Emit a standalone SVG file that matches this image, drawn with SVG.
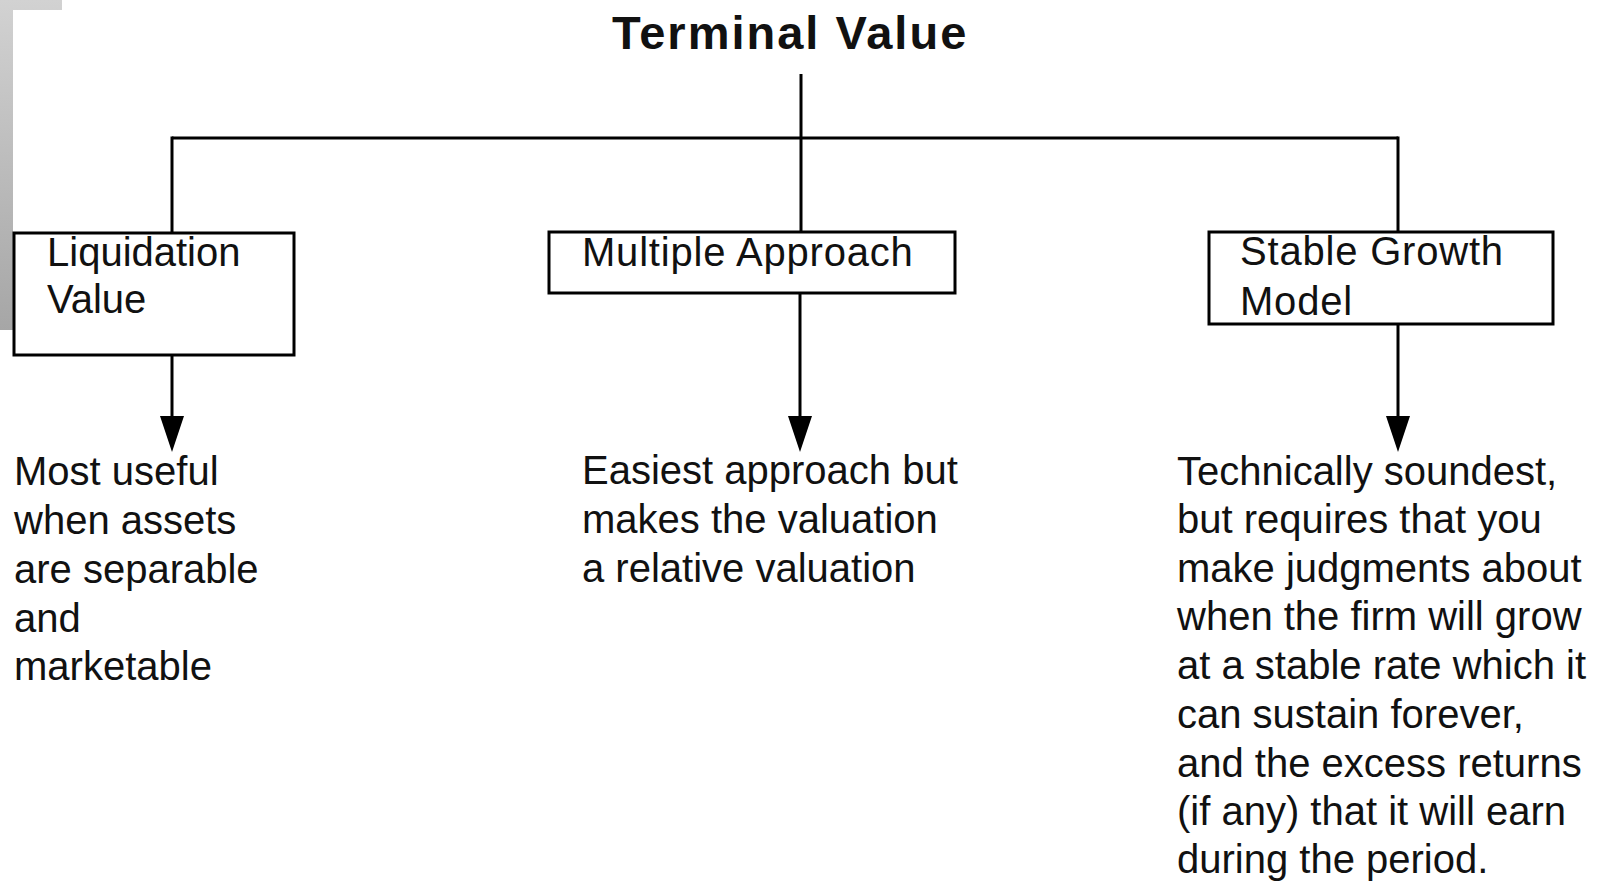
<svg xmlns="http://www.w3.org/2000/svg" width="1607" height="884" viewBox="0 0 1607 884">
  <defs>
    <linearGradient id="greyBar" x1="0" y1="0" x2="0" y2="1">
      <stop offset="0" stop-color="#d2d2d2"/>
      <stop offset="1" stop-color="#a6a6a6"/>
    </linearGradient>
    <style>
      .box { fill: #ffffff; stroke: #000000; stroke-width: 3; }
      .conn { fill: none; stroke: #000000; stroke-width: 3; }
      .head { fill: #000000; stroke: none; }
      .lbl { font-family: "Liberation Sans", Arial, sans-serif; font-size: 40px; fill: #111111; }
      .wide { letter-spacing: 0.8px; }
      .title { font-family: "Liberation Sans", Arial, sans-serif; font-size: 47px; font-weight: bold; fill: #111111; letter-spacing: 2px; }
    </style>
  </defs>
  <rect x="0" y="0" width="1607" height="884" fill="#ffffff"/>
  <!-- decorative grey corner -->
  <path d="M0,0 H62 V10 H13 V330 H0 Z" fill="url(#greyBar)"/>

  <g id="connectors">
    <line class="conn" x1="801" y1="74" x2="801" y2="232"/>
    <line class="conn" x1="172" y1="138" x2="1398" y2="138"/>
    <line class="conn" x1="172" y1="136.5" x2="172" y2="232"/>
    <line class="conn" x1="1398" y1="136.5" x2="1398" y2="232"/>
    <line class="conn" x1="172" y1="355" x2="172" y2="420"/>
    <polygon class="head" points="160,416 184,416 172,452"/>
    <line class="conn" x1="800" y1="293" x2="800" y2="420"/>
    <polygon class="head" points="788,416 812,416 800,452"/>
    <line class="conn" x1="1398" y1="324" x2="1398" y2="420"/>
    <polygon class="head" points="1386,416 1410,416 1398,452"/>
  </g>

  <g id="title">
    <text class="title" x="612" y="49">Terminal Value</text>
  </g>

  <g id="liquidation-value">
    <rect class="box" x="14" y="233" width="280" height="122"/>
    <text class="lbl" x="47" y="266">Liquidation</text>
    <text class="lbl" x="47" y="313">Value</text>
  </g>

  <g id="multiple-approach">
    <rect class="box" x="549" y="232" width="406" height="61"/>
    <text class="lbl wide" x="582" y="266">Multiple Approach</text>
  </g>

  <g id="stable-growth-model">
    <rect class="box" x="1209" y="232" width="344" height="92"/>
    <text class="lbl wide" x="1240" y="265">Stable Growth</text>
    <text class="lbl wide" x="1240" y="315">Model</text>
  </g>

  <g id="liquidation-desc">
    <text class="lbl" x="14" y="485">Most useful</text>
    <text class="lbl" x="14" y="534">when assets</text>
    <text class="lbl" x="14" y="583">are separable</text>
    <text class="lbl" x="14" y="632">and</text>
    <text class="lbl" x="14" y="680">marketable</text>
  </g>

  <g id="multiple-desc">
    <text class="lbl" x="582" y="484">Easiest approach but</text>
    <text class="lbl" x="582" y="533">makes the valuation</text>
    <text class="lbl" x="582" y="582">a relative valuation</text>
  </g>

  <g id="stable-desc">
    <text class="lbl" x="1177" y="485">Technically soundest,</text>
    <text class="lbl" x="1177" y="533">but requires that you</text>
    <text class="lbl" x="1177" y="582">make judgments about</text>
    <text class="lbl" x="1177" y="630">when the firm will grow</text>
    <text class="lbl" x="1177" y="679">at a stable rate which it</text>
    <text class="lbl" x="1177" y="728">can sustain forever,</text>
    <text class="lbl" x="1177" y="777">and the excess returns</text>
    <text class="lbl" x="1177" y="825">(if any) that it will earn</text>
    <text class="lbl" x="1177" y="873">during the period.</text>
  </g>
</svg>
